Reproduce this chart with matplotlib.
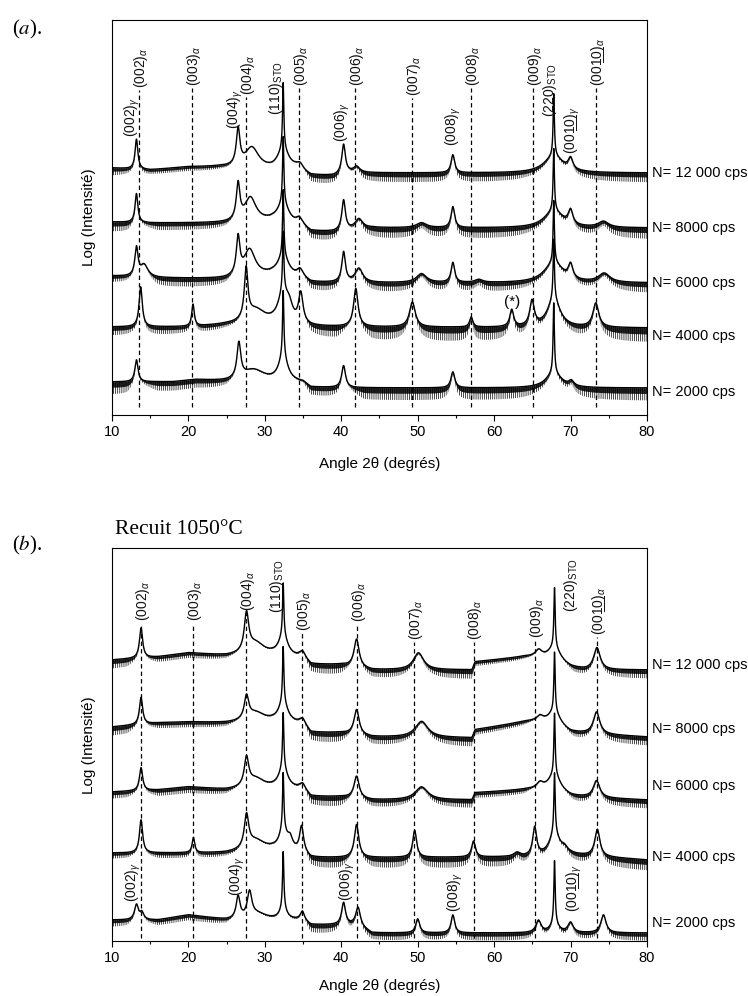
import numpy as np
import matplotlib
matplotlib.use("Agg")
import matplotlib.pyplot as plt
from matplotlib.ticker import MultipleLocator

plt.rcParams['font.family'] = ['Liberation Sans', 'DejaVu Sans']
plt.rcParams['mathtext.fontset'] = 'custom'
plt.rcParams['mathtext.rm'] = 'Liberation Sans'
plt.rcParams['mathtext.it'] = 'Liberation Sans:italic'
plt.rcParams['mathtext.bf'] = 'Liberation Sans:bold'
plt.rcParams['hatch.linewidth'] = 0.5
plt.rcParams['hatch.color'] = 'black'

# ---------------------------------------------------------------------------
# Diffractograms: background (2theta, level), noise depth (2theta, depth) and
# reflections (2theta centre, height above background, half width).
# Levels are in plot units (log intensity, stacked with an offset).
# ---------------------------------------------------------------------------
CPS_LABELS = ["N= 12 000 cps", "N= 8000 cps", "N= 6000 cps", "N= 4000 cps", "N= 2000 cps"]

# ---- (a) as deposited ----
A12000_BG = [(10, 247), (15, 245), (20, 248), (24, 248), (26, 247), (31, 244), (34, 245),
             (36, 239), (39, 239), (41, 242), (80, 242)]
A12000_NOISE = [(10, 8), (13, 6), (16, 5), (25, 5), (26.5, 2), (35, 2), (36, 11), (39.5, 11),
                (41, 4), (43, 10), (80, 10)]
A12000_PEAKS = [(13.2, 30, 0.22), (26.5, 36, 0.28), (28.3, 21, 1.1), (32.4, 66, 0.1),
                (32.4, 20, 0.9), (34.6, 6, 0.5), (40.3, 29, 0.28), (42.0, 6, 0.5),
                (54.6, 18, 0.28), (67.8, 62, 0.1), (67.8, 17, 1.5), (70.0, 11, 0.35)]

A8000_BG = [(10, 193), (15, 192), (25, 192), (31, 193), (35, 187), (36, 183), (39, 183),
            (44, 187), (80, 187)]
A8000_NOISE = [(10, 10), (12, 10), (14, 4), (16, 8), (25, 8), (26.5, 2), (35, 3), (36, 12),
               (39.5, 12), (41, 4), (43, 12), (80, 12)]
A8000_PEAKS = [(13.2, 29, 0.22), (26.5, 36, 0.28), (28.1, 24, 0.9), (32.4, 66, 0.1),
               (32.4, 20, 0.9), (34.5, 7, 0.5), (40.3, 30, 0.28), (42.3, 10, 0.6),
               (50.5, 5, 0.8), (54.6, 21, 0.28), (67.8, 62, 0.1), (67.8, 17, 1.5),
               (70.0, 14, 0.35), (74.3, 6, 0.8)]

A6000_BG = [(10, 139), (16, 137), (25, 136), (31, 139), (35, 135), (36, 132), (80, 132)]
A6000_NOISE = [(10, 7), (12, 7), (14, 3), (16, 10), (25, 10), (26.5, 2), (35, 3), (36, 12),
               (39.5, 12), (41, 4), (43, 11), (80, 11)]
A6000_PEAKS = [(13.2, 28, 0.25), (14.2, 12, 0.6), (26.5, 37, 0.28), (28.0, 27, 0.9),
               (32.4, 66, 0.1), (32.4, 20, 0.9), (34.6, 8, 0.5), (40.3, 30, 0.28),
               (42.3, 14, 0.6), (50.5, 9, 0.8), (54.6, 20, 0.28), (58.0, 3, 0.6),
               (67.8, 62, 0.1), (67.8, 20, 1.5), (70.0, 14, 0.35), (74.4, 9, 0.9)]

A4000_BG = [(10, 88), (20, 88), (25, 90), (31, 90), (36, 88), (80, 87)]
A4000_NOISE = [(10, 9), (12, 9), (16, 9), (19, 8), (22, 8), (26, 7), (27.5, 2), (35, 3),
               (36, 15), (39.5, 15), (41, 4), (44, 16), (80, 15)]
A4000_PEAKS = [(13.75, 40, 0.25), (20.6, 22, 0.2), (27.55, 50, 0.28), (28.8, 14, 1.5),
               (32.4, 58, 0.1), (32.4, 30, 0.8), (33.2, 12, 0.5), (34.7, 30, 0.35),
               (41.9, 38, 0.35), (49.3, 25, 0.45), (57.0, 10, 0.25), (62.3, 17, 0.3),
               (64.95, 25, 0.35), (67.8, 60, 0.1), (67.8, 28, 1.0), (73.3, 24, 0.45)]

A2000_BG = [(10, 33), (18, 33), (21, 35), (25, 33), (35, 32), (36, 27), (80, 27)]
A2000_NOISE = [(10, 13), (12, 13), (14, 4), (16, 10), (25, 10), (26.5, 2), (35, 3), (36, 11),
               (39.5, 11), (41, 4), (43, 13), (80, 13)]
A2000_PEAKS = [(13.2, 22, 0.25), (26.6, 35, 0.3), (28.5, 12, 1.8), (32.4, 65, 0.1),
               (32.4, 25, 0.7), (40.3, 22, 0.3), (54.6, 16, 0.3), (67.8, 70, 0.1),
               (67.8, 15, 1.2), (70.1, 5, 0.4)]

# ---- (b) annealed at 1050 C ----
B12000_BG = [(10, 281), (16, 284), (20, 288), (25, 285), (31, 285), (35, 282), (36, 276),
             (40, 276), (44, 271), (57.1, 271), (57.5, 279), (64, 284), (66, 283), (70, 273),
             (72, 271), (80, 271)]
B12000_NOISE = [(10, 9), (12, 9), (14, 3), (16, 6), (25, 6), (26.5, 2), (35, 3), (36, 12),
                (40, 12), (41.5, 4), (44, 10), (57.1, 10), (57.5, 5), (64, 4), (65, 2),
                (69, 2), (70.5, 9), (80, 9)]
B12000_PEAKS = [(13.8, 30, 0.25), (27.6, 38, 0.35), (28.8, 12, 1.4), (32.4, 52, 0.1),
                (32.4, 20, 0.7), (34.9, 6, 0.5), (42.0, 28, 0.4), (50.1, 17, 0.8),
                (65.8, 6, 0.5), (67.9, 60, 0.1), (67.9, 15, 1.0), (73.45, 22, 0.5)]

B8000_BG = [(10, 214), (16, 218), (20, 219), (25, 218), (31, 219), (35, 216), (36, 208),
            (40, 208), (44, 204), (57.1, 203), (57.5, 211), (64, 219), (66, 219), (70, 208),
            (80, 204)]
B8000_NOISE = [(10, 9), (12, 9), (14, 3), (16, 6), (25, 6), (26.5, 2), (35, 3), (36, 12),
               (40, 12), (41.5, 4), (44, 10), (57.1, 10), (57.5, 6), (64, 5), (65, 2),
               (69, 2), (70.5, 9), (80, 9)]
B8000_PEAKS = [(13.8, 27, 0.25), (27.6, 23, 0.35), (28.8, 9, 1.4), (32.4, 55, 0.1),
               (32.4, 20, 0.7), (34.9, 5, 0.5), (42.0, 25, 0.4), (50.5, 16, 1.0),
               (66.0, 4, 0.5), (67.9, 60, 0.1), (67.9, 15, 1.0), (73.4, 22, 0.5)]

B6000_BG = [(10, 149), (16, 151), (20, 154), (25, 151), (31, 152), (35, 151), (36, 144),
            (40, 144), (44, 141), (57.1, 141), (57.5, 148), (64, 151), (66, 151), (70, 144),
            (80, 141)]
B6000_NOISE = [(10, 7), (12, 7), (14, 3), (16, 7), (25, 7), (26.5, 2), (35, 3), (36, 12),
               (40, 12), (41.5, 4), (44, 9), (57.1, 9), (57.5, 6), (64, 6), (65, 2),
               (69, 2), (70.5, 9), (80, 9)]
B6000_PEAKS = [(13.8, 23, 0.25), (27.6, 28, 0.35), (28.8, 10, 1.4), (32.4, 55, 0.1),
               (32.4, 20, 0.7), (34.9, 5, 0.5), (42.0, 22, 0.4), (50.5, 13, 1.0),
               (66.0, 5, 0.5), (67.9, 62, 0.1), (67.9, 18, 1.0), (73.4, 17, 0.5)]

B4000_BG = [(10, 88), (25, 88), (31, 91), (35, 88), (36, 83), (64, 84), (70, 86), (80, 81)]
B4000_NOISE = [(10, 6), (12, 6), (14, 3), (16, 6), (26, 6), (27.5, 2), (35, 3), (36, 13),
               (40, 13), (41.5, 4), (44, 12), (80, 11)]
B4000_PEAKS = [(13.8, 33, 0.25), (20.65, 15, 0.2), (27.6, 33, 0.35), (28.8, 10, 1.4),
               (32.4, 55, 0.1), (32.4, 20, 0.6), (33.3, 10, 0.4), (34.8, 25, 0.3),
               (42.0, 33, 0.35), (49.6, 27, 0.3), (57.3, 16, 0.3), (63.0, 4, 0.5),
               (65.3, 28, 0.3), (67.9, 60, 0.1), (67.9, 22, 0.8), (69.2, 5, 0.5),
               (73.5, 27, 0.4)]

B2000_BG = [(10, 21), (16, 21), (20, 26), (25, 21), (35, 21), (36, 16), (42, 16), (44, 8),
            (80, 8)]
B2000_NOISE = [(10, 7), (12, 7), (14, 3), (16, 6), (25, 6), (26, 2), (35, 3), (36, 10),
               (40, 10), (43, 8), (80, 8)]
B2000_PEAKS = [(13.2, 15, 0.3), (13.9, 7, 0.3), (26.5, 22, 0.3), (28.0, 25, 0.35),
               (29.0, 6, 1.5), (32.4, 55, 0.1), (32.4, 12, 0.5), (34.9, 8, 0.3),
               (40.3, 22, 0.3), (42.2, 18, 0.35), (50.0, 14, 0.3), (54.6, 18, 0.28),
               (65.8, 12, 0.4), (67.9, 62, 0.1), (67.9, 10, 0.6), (70.0, 10, 0.4),
               (74.3, 18, 0.4)]

# ---- reference lines and labels ----
L0010 = "(00" + "1\u03320\u0332" + ")"
# alpha-phase (00l) positions: (2theta, label, top of dashed line)
A_ALPHA_LINES = [(13.55, "(002)", 325), (20.5, "(003)", 327), (27.5, "(004)", 318),
                 (34.5, "(005)", 327), (41.85, "(006)", 327), (49.25, "(007)", 317),
                 (56.95, "(008)", 327), (65.07, "(009)", 327), (73.35, L0010, 327)]
B_ALPHA_LINES = [(13.85, "(002)", 318), (20.6, "(003)", 318), (27.5, "(004)", 328),
                 (34.9, "(005)", 308), (42.1, "(006)", 317), (49.5, "(007)", 299),
                 (57.3, "(008)", 299), (65.3, "(009)", 301), (73.5, L0010, 304)]
# gamma-phase labels: (2theta, label, bottom of text)
A_GAMMA_LABELS = [(12.45, "(002)", 278), (25.85, "(004)", 286), (39.85, "(006)", 273),
                  (54.45, "(008)", 269), (70.0, L0010, 261)]
B_GAMMA_LABELS = [(12.55, "(002)", 39), (26.1, "(004)", 45), (40.5, "(006)", 40),
                  (54.7, "(008)", 29), (70.2, L0010, 29)]
# substrate reflections: (2theta, label, bottom of text)
A_STO_LABELS = [(31.45, "(110)", 300), (67.3, "(220)", 298)]
B_STO_LABELS = [(31.65, "(110)", 328), (70.1, "(220)", 329)]

A_CPS_Y = [242, 187, 132, 79, 23]
B_CPS_Y = [276, 212, 155, 84, 18]

two_theta = np.linspace(10, 80, 4001)


def pattern(bg, peaks):
    bx, by = zip(*bg)
    level = np.interp(two_theta, bx, by)
    refl = np.zeros_like(two_theta)
    for c, h, w in peaks:
        refl += h / (1.0 + ((two_theta - c) / w) ** 2)
    return level + refl, refl


def draw_pattern(ax, bg, noise, peaks):
    y, refl = pattern(bg, peaks)
    nx, nd = zip(*noise)
    depth = np.interp(two_theta, nx, nd) / (1.0 + refl / 5.0)
    # sparse spikes in the lower part of the noise band, dense ones near the signal
    ax.fill_between(two_theta, y - depth, y, facecolor="none", edgecolor="black",
                    lw=0, hatch="||||||||")
    ax.fill_between(two_theta, y - 0.45 * depth, y, color="black", lw=0, alpha=0.85)
    ax.plot(two_theta, y, color="black", lw=1.0)


def style_axes(ax, ytop):
    ax.set_xlim(10, 80)
    ax.set_ylim(0, ytop)
    ax.set_yticks([])
    ax.xaxis.set_major_locator(MultipleLocator(10))
    ax.xaxis.set_minor_locator(MultipleLocator(5))
    ax.tick_params(axis="x", which="major", direction="out", length=4, width=0.8,
                   labelsize=10.5, pad=3)
    ax.tick_params(axis="x", which="minor", direction="out", length=2.5, width=0.8)
    for s in ax.spines.values():
        s.set_linewidth(0.8)


def vlabel(ax, x, y, main, sub, size=10):
    ax.text(x, y, main + "$_{" + sub + "}$", rotation=90, ha="center", va="bottom",
            fontsize=size, color="#111111")


fig = plt.figure(figsize=(7.48, 9.96), dpi=100)
W, H = 748.0, 996.0
ax_a = fig.add_axes([112 / W, 1 - 415 / H, 535 / W, 395 / H])
ax_b = fig.add_axes([112 / W, 1 - 941 / H, 535 / W, 393 / H])
style_axes(ax_a, 395)
style_axes(ax_b, 393)

for bg, nz, pk in [(A12000_BG, A12000_NOISE, A12000_PEAKS), (A8000_BG, A8000_NOISE, A8000_PEAKS),
                   (A6000_BG, A6000_NOISE, A6000_PEAKS), (A4000_BG, A4000_NOISE, A4000_PEAKS),
                   (A2000_BG, A2000_NOISE, A2000_PEAKS)]:
    draw_pattern(ax_a, bg, nz, pk)
for bg, nz, pk in [(B12000_BG, B12000_NOISE, B12000_PEAKS), (B8000_BG, B8000_NOISE, B8000_PEAKS),
                   (B6000_BG, B6000_NOISE, B6000_PEAKS), (B4000_BG, B4000_NOISE, B4000_PEAKS),
                   (B2000_BG, B2000_NOISE, B2000_PEAKS)]:
    draw_pattern(ax_b, bg, nz, pk)

# dashed alpha-phase markers with their labels
for ax, lines, ybot in [(ax_a, A_ALPHA_LINES, 8), (ax_b, B_ALPHA_LINES, 3)]:
    for x, lab, ytop in lines:
        ax.plot([x, x], [ybot, ytop], color="black", lw=0.9, ls=(0, (3.5, 2.5)))
        vlabel(ax, x + 0.25, ytop + 2, lab, r"\alpha")

for ax, labs in [(ax_a, A_GAMMA_LABELS), (ax_b, B_GAMMA_LABELS)]:
    for x, lab, yb in labs:
        vlabel(ax, x + 0.25, yb, lab, r"\gamma")

for ax, labs in [(ax_a, A_STO_LABELS), (ax_b, B_STO_LABELS)]:
    for x, lab, yb in labs:
        vlabel(ax, x, yb, lab, r"\mathrm{STO}")

ax_a.text(62.3, 113, "(*)", ha="center", va="center", fontsize=11)

for ax, ys in [(ax_a, A_CPS_Y), (ax_b, B_CPS_Y)]:
    for lab, y in zip(CPS_LABELS, ys):
        ax.text(80.6, y, lab, ha="left", va="center", fontsize=10.5, clip_on=False)

# axis titles
fig.text(380 / W, 1 - 464 / H, "Angle 2\u03b8 (degrés)", ha="center", va="center", fontsize=11)
fig.text(380 / W, 1 - 986 / H, "Angle 2\u03b8 (degrés)", ha="center", va="center", fontsize=11)
fig.text(89 / W, 1 - 217 / H, "Log (Intensité)", rotation=90, ha="center", va="center", fontsize=11)
fig.text(89 / W, 1 - 745 / H, "Log (Intensité)", rotation=90, ha="center", va="center", fontsize=11)

# panel tags
fig.text(12 / W, 1 - 29 / H, r"($\mathit{a}$).", ha="left", va="center", fontsize=15,
         family="Liberation Serif", math_fontfamily="stix")
fig.text(12 / W, 1 - 545 / H, r"($\mathit{b}$).", ha="left", va="center", fontsize=15,
         family="Liberation Serif", math_fontfamily="stix")
fig.text(115 / W, 1 - 529 / H, "Recuit 1050°C", ha="left", va="center", fontsize=15.5,
         family="Liberation Serif")

fig.savefig("out.png", dpi=100)
